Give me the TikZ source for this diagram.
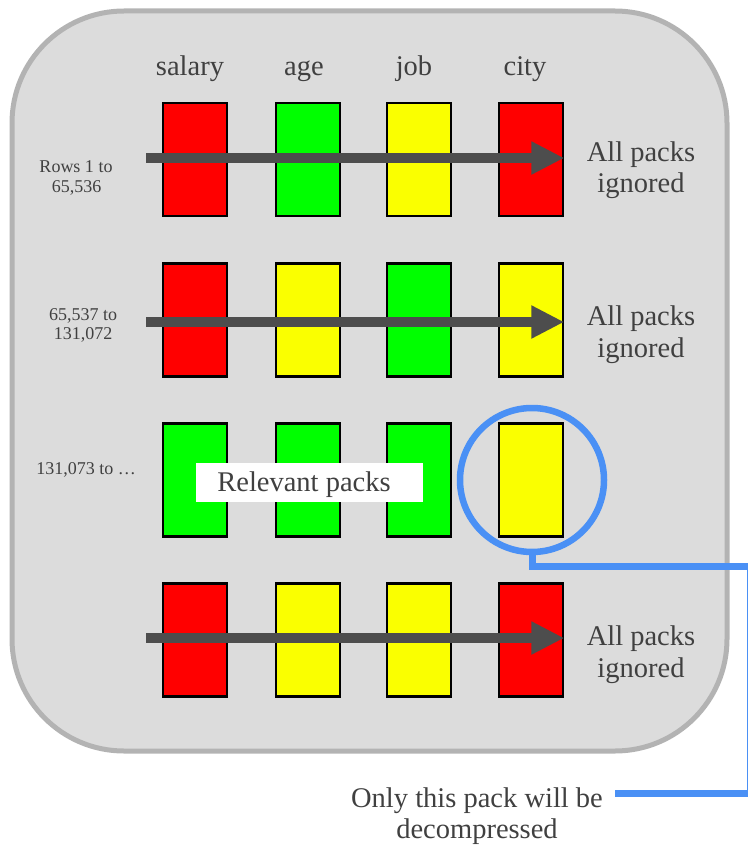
\documentclass[tikz,border=0pt]{standalone}
\usepackage{fontspec}
\setmainfont{Liberation Serif}
\usetikzlibrary{arrows.meta}
\definecolor{panelgray}{RGB}{220,220,220}
\definecolor{panelborder}{RGB}{179,179,179}
\definecolor{txtgray}{RGB}{64,64,64}
\definecolor{arrowgray}{RGB}{77,77,77}
\definecolor{hlblue}{RGB}{74,144,245}
\definecolor{pred}{RGB}{255,0,0}
\definecolor{pgreen}{RGB}{0,255,0}
\definecolor{pyellow}{RGB}{250,255,0}
\tikzset{
  pack/.style={draw=black, line width=2.5pt, minimum width=64pt, minimum height=113pt, inner sep=0pt},
  bigtxt/.style={text=txtgray, inner sep=0pt, anchor=base, font=\fontsize{28.5}{33}\selectfont},
  smalltxt/.style={text=txtgray, inner sep=0pt, anchor=base, font=\fontsize{18}{21}\selectfont},
  scanarrow/.style={draw=arrowgray, line width=10pt, -{Triangle[length=33pt,width=31pt]}},
  hlline/.style={draw=hlblue, line width=7pt, line join=miter}
}
\begin{document}
\begin{tikzpicture}[x=1pt,y=-1pt]
\useasboundingbox (0,0) rectangle (747,845);
% panel
\draw[fill=panelgray, draw=panelborder, line width=5pt, rounded corners=112pt] (12,11) rectangle (727,751);
% headers
\node[bigtxt] (hsal) at (190,76) {salary};
\node[bigtxt] (hage) at (304,76) {age};
\node[bigtxt] (hjob) at (414,76) {job};
\node[bigtxt] (hcity) at (525,76) {city};
% row 1
\node[pack, fill=pred]    (p11) at (195,159.5) {};
\node[pack, fill=pgreen]  (p12) at (308,159.5) {};
\node[pack, fill=pyellow] (p13) at (419,159.5) {};
\node[pack, fill=pred]    (p14) at (531,159.5) {};
% row 2
\node[pack, fill=pred]    (p21) at (195,320) {};
\node[pack, fill=pyellow] (p22) at (308,320) {};
\node[pack, fill=pgreen]  (p23) at (419,320) {};
\node[pack, fill=pyellow] (p24) at (531,320) {};
% row 3
\node[pack, fill=pgreen]  (p31) at (195,480) {};
\node[pack, fill=pgreen]  (p32) at (308,480) {};
\node[pack, fill=pgreen]  (p33) at (419,480) {};
\node[pack, fill=pyellow] (p34) at (531,480) {};
% row 4
\node[pack, fill=pred]    (p41) at (195,640) {};
\node[pack, fill=pyellow] (p42) at (308,640) {};
\node[pack, fill=pyellow] (p43) at (419,640) {};
\node[pack, fill=pred]    (p44) at (531,640) {};
% scan arrows
\coordinate (a1) at (146,158);
\coordinate (a2) at (146,322);
\coordinate (a4) at (146,638);
\draw[scanarrow] (a1) -- (a1 -| p14.east);
\draw[scanarrow] (a2) -- (a2 -| p24.east);
\draw[scanarrow] (a4) -- (a4 -| p44.east);
% row labels
\node[smalltxt] (l1a) at (76,172) {Rows 1 to};
\node[smalltxt] (l1b) at (76.5,193) {65,536};
\node[smalltxt] (l2a) at (83,320) {65,537 to};
\node[smalltxt] (l2b) at (83,339) {131,072};
\node[smalltxt] (l3a) at (86,474) {131,073 to …};
% ignored labels
\node[bigtxt] (i1a) at (641,161) {All packs};
\node[bigtxt] (i1b) at (641,193) {ignored};
\node[bigtxt] (i2a) at (641,325) {All packs};
\node[bigtxt] (i2b) at (641,357) {ignored};
\node[bigtxt] (i4a) at (641,645) {All packs};
\node[bigtxt] (i4b) at (641,677) {ignored};
% relevant packs
\node[fill=white, minimum width=227pt, minimum height=39pt, inner sep=0pt] (relbox) at (309.5,482.5) {};
\node[bigtxt] (reltxt) at (304,491) {Relevant packs};
% highlight
\node[draw=hlblue, line width=6.5pt, circle, minimum size=144pt, inner sep=0pt] (hl) at (532,480) {};
\coordinate (c2) at (750.5,566);
\coordinate (c3) at (750.5,793);
\coordinate (c4) at (615,793);
\draw[hlline] (hl.south) -- (hl.south |- c2) -- (c2) -- (c3) -- (c4);
% note
\node[bigtxt] (n1) at (477,807) {Only this pack will be};
\node[bigtxt] (n2) at (477,838) {decompressed};
\end{tikzpicture}
\end{document}
